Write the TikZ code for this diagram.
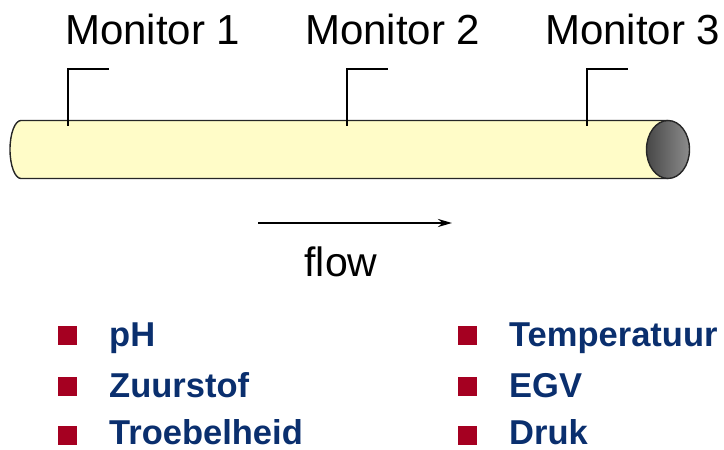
\documentclass[tikz,border=0pt]{standalone}
\usepackage{fontspec}
\setmainfont{Liberation Sans}
\usetikzlibrary{arrows.meta}
\definecolor{pipefill}{HTML}{FFFCC8}
\definecolor{bulletred}{HTML}{A50021}
\definecolor{textblue}{HTML}{0A2F6E}
\tikzset{
  monlabel/.style={anchor=base west, inner sep=0pt, font=\fontsize{42}{42}\selectfont},
  bracket/.style={line width=2.6pt, black},
  bulletsq/.style={fill=bulletred, minimum size=19pt, inner sep=0pt},
  itemtext/.style={anchor=base west, inner sep=0pt, text=textblue, font=\fontsize{34.5}{34.5}\selectfont\bfseries},
}
\begin{document}
\begin{tikzpicture}[x=1pt,y=1pt]
\useasboundingbox (0,0) rectangle (724,450);
% pipe body
\fill[pipefill] (668,329.5) -- (21,329.5) arc[start angle=90,end angle=270,x radius=11,y radius=29] -- (668,271.5) -- cycle;
\draw[line width=1.4pt, black!85] (668,329.5) -- (21,329.5) arc[start angle=90,end angle=270,x radius=11,y radius=29] -- (668,271.5);
% pipe end
\shade[left color=black!72, right color=black!45] (668,300.5) ellipse[x radius=21.5, y radius=29];
\draw[line width=1.4pt, black!85] (668,300.5) ellipse[x radius=21.5, y radius=29];
% monitor labels
\node[monlabel] (m1) at (65,405) {Monitor 1};
\node[monlabel] (m2) at (305,405) {Monitor 2};
\node[monlabel] (m3) at (545,405) {Monitor 3};
% brackets
\coordinate (b1a) at (68,324); \coordinate (b1b) at (68,381); \coordinate (b1c) at (109,381);
\coordinate (b2a) at (347,324); \coordinate (b2b) at (347,381); \coordinate (b2c) at (388,381);
\coordinate (b3a) at (587,324); \coordinate (b3b) at (587,381); \coordinate (b3c) at (628,381);
\draw[bracket] (b1a) -- (b1b) -- (b1c);
\draw[bracket] (b2a) -- (b2b) -- (b2c);
\draw[bracket] (b3a) -- (b3b) -- (b3c);
% flow arrow
\coordinate (fa) at (258,227);
\coordinate (fb) at (452,227);
\draw[line width=2.2pt, -{Stealth[length=14pt,width=8pt]}] (fa) -- (fb);
\node[anchor=base, inner sep=0pt, font=\fontsize{41}{41}\selectfont] (flow) at (341,173) {flow};
% bullets
\node[bulletsq] (s1) at (67,114) {};
\node[bulletsq] (s2) at (67,63) {};
\node[bulletsq] (s3) at (67,14.5) {};
\node[bulletsq] (s4) at (467,114) {};
\node[bulletsq] (s5) at (467,63) {};
\node[bulletsq] (s6) at (467,14.5) {};
\node[itemtext] (t1) at (109,103) {pH};
\node[itemtext] (t2) at (109,52) {Zuurstof};
\node[itemtext] (t3) at (109,5) {Troebelheid};
\node[itemtext] (t4) at (509,103) {Temperatuur};
\node[itemtext] (t5) at (509,52) {EGV};
\node[itemtext] (t6) at (509,5) {Druk};
\end{tikzpicture}
\end{document}
